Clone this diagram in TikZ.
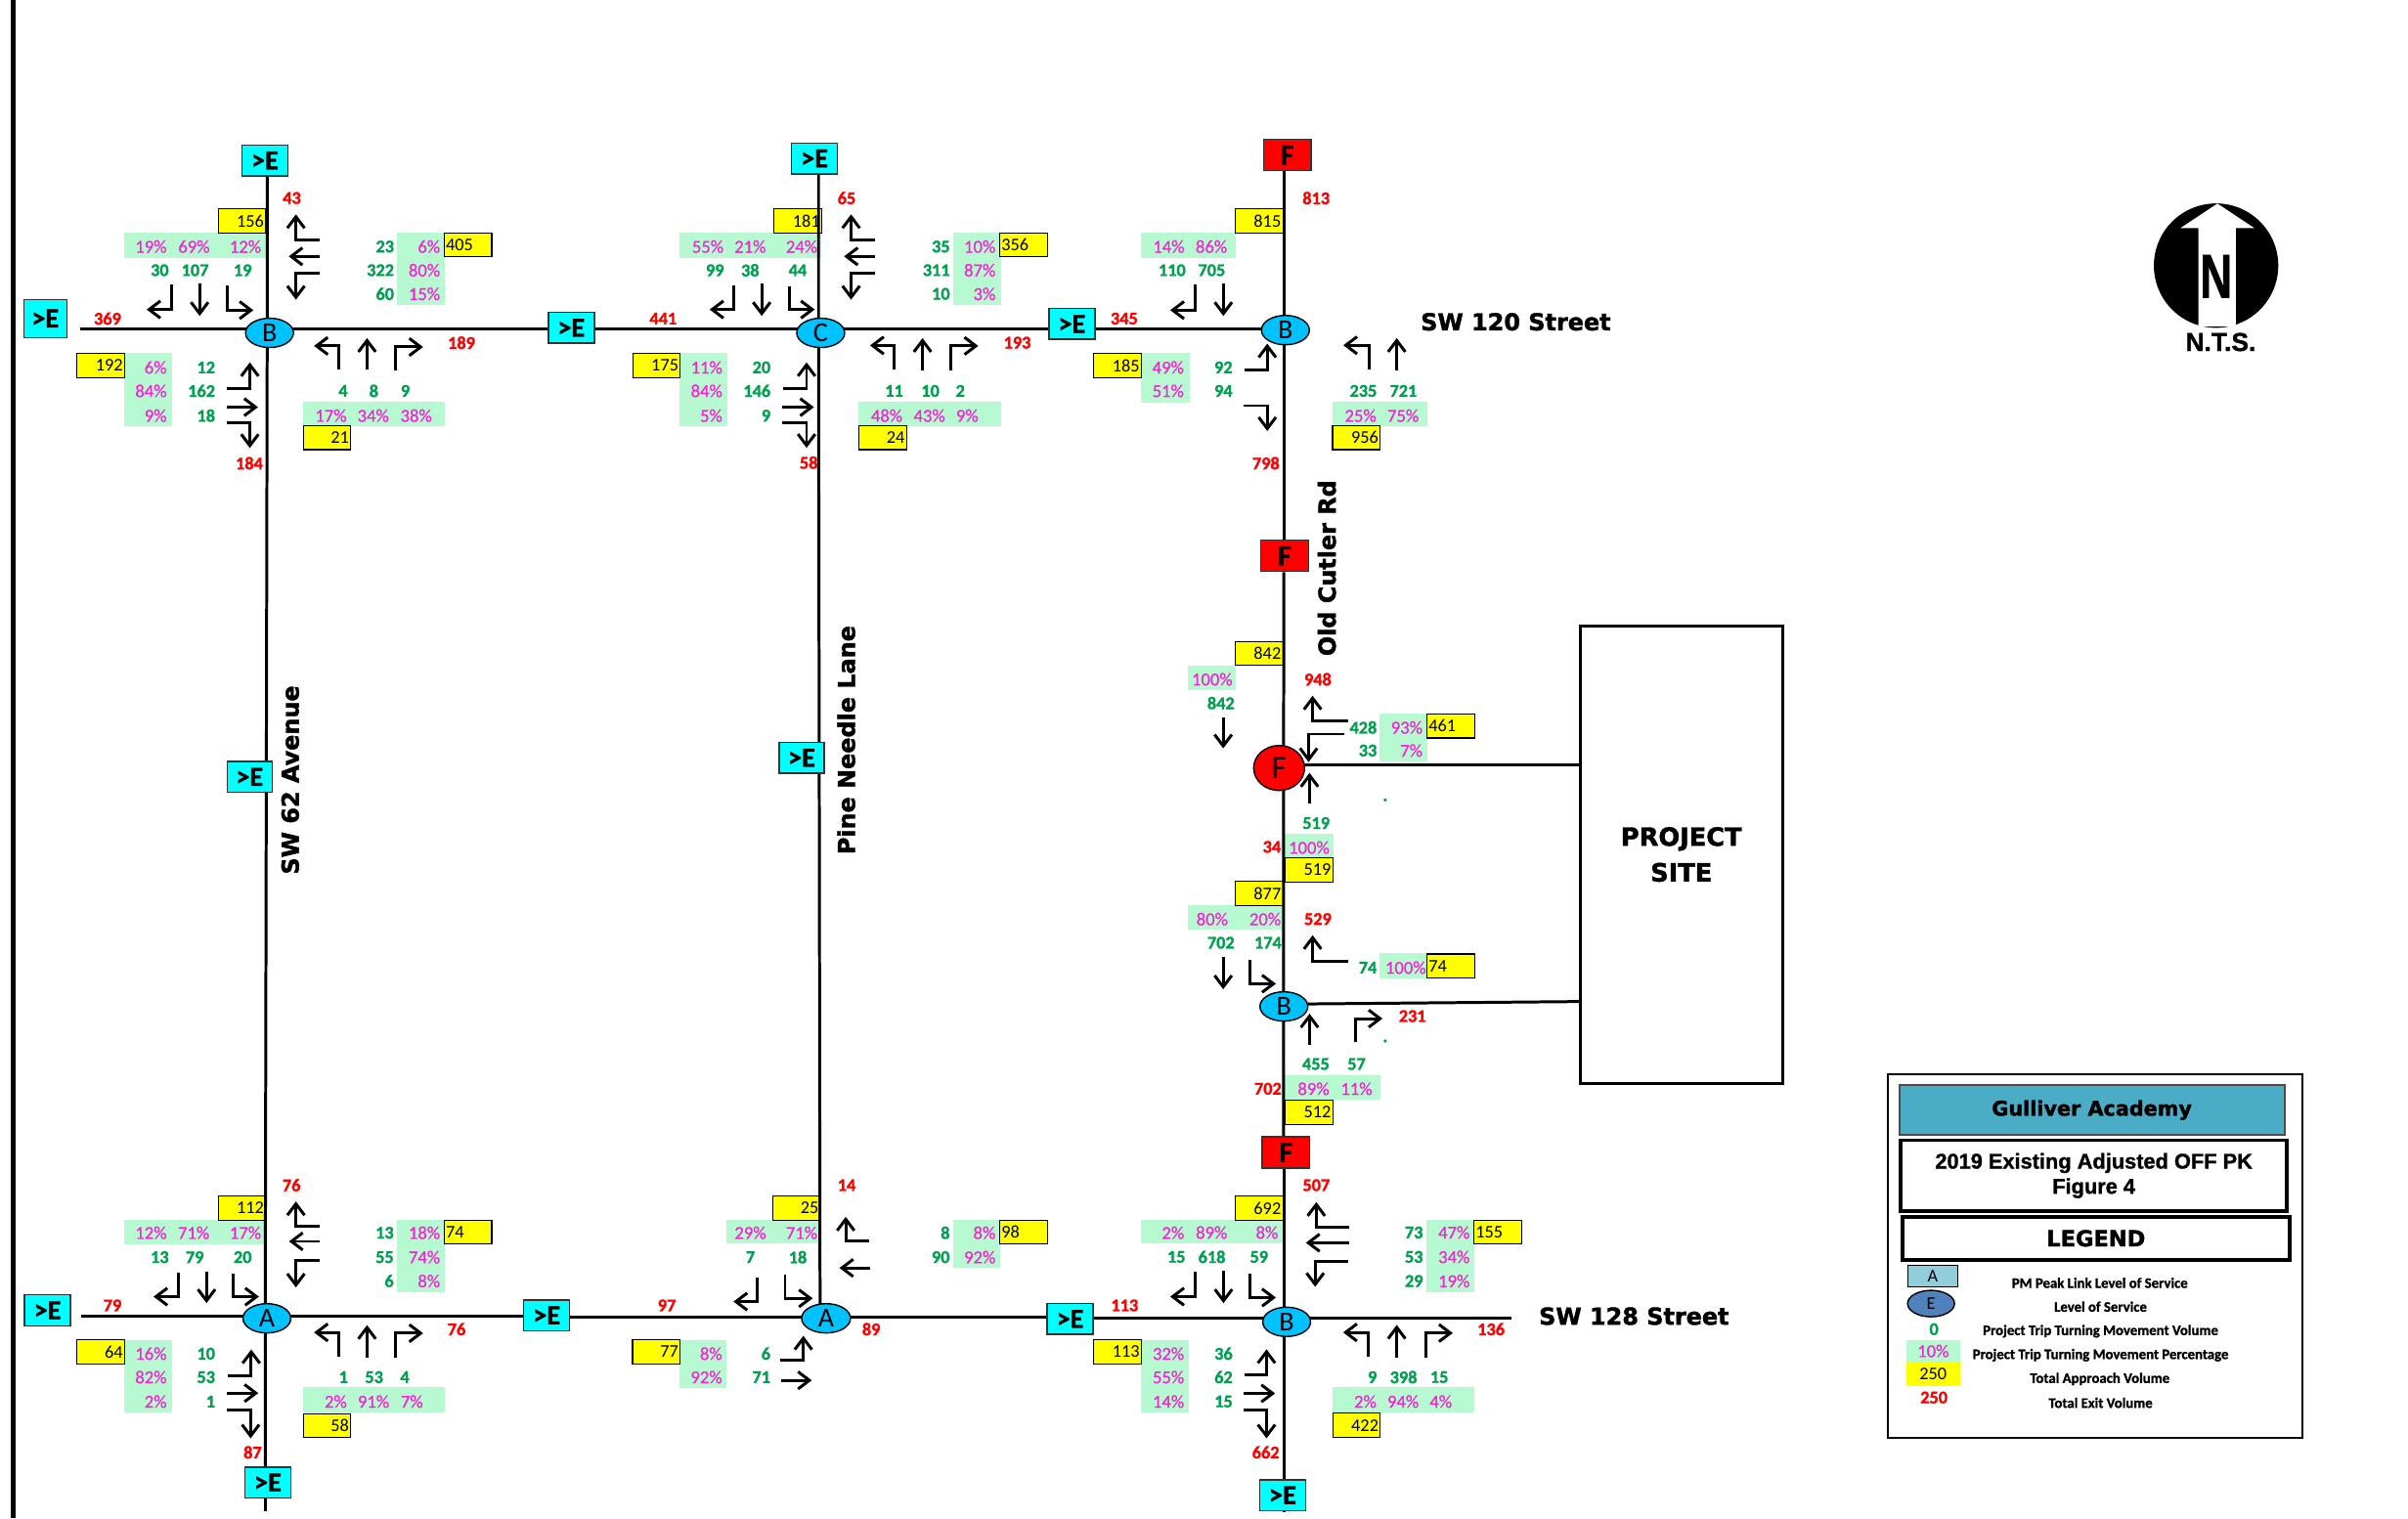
\documentclass[tikz,border=0pt]{standalone}
\usepackage{fontspec}
\setmainfont{Carlito}[BoldFeatures={FakeBold=1.2}]
\newfontfamily\pctfont{Carlito}[FakeBold=0.5]
\newfontfamily\heavyfont{DejaVu Sans}[BoldFont={DejaVu Sans Bold},BoldFeatures={FakeBold=1.6}]
\newfontfamily\arialfont{Liberation Sans}[BoldFeatures={FakeBold=1.2}]
\usepackage{tikz}
\usetikzlibrary{arrows.meta,shapes.geometric}

\definecolor{bandgreen}{RGB}{183,249,209}
\definecolor{pctpink}{RGB}{245,35,210}
\definecolor{volgreen}{RGB}{0,160,80}
\definecolor{losblue}{RGB}{0,194,255}
\definecolor{titleteal}{RGB}{75,172,198}
\definecolor{linkcyan}{RGB}{0,255,255}
\definecolor{totalyellow}{RGB}{255,255,0}
\definecolor{exitred}{RGB}{255,0,0}

\tikzset{
	road/.style={line width=0.85pt},
	turn/.style={line width=0.85pt,-{Straight Barb[length=3.3pt,width=5pt]}},
	band/.style={fill=bandgreen},
	pct/.style={inner sep=0,text=pctpink,font=\fontsize{5.3}{5.3}\selectfont\pctfont},
	pctr/.style={pct,anchor=east},
	vol/.style={inner sep=0,text=volgreen,font=\fontsize{5.2}{5.2}\selectfont\bfseries},
	volr/.style={vol,anchor=east},
	exit/.style={inner sep=0,text=exitred,font=\fontsize{5.2}{5.2}\selectfont\bfseries},
	totalr/.style={draw,fill=totalyellow,line width=0.3pt,minimum width=4.87mm,minimum height=2.47mm,text width=4.5mm,inner xsep=0.18mm,inner ysep=0,align=right,font=\fontsize{5.2}{5.2}\selectfont},
	totall/.style={totalr,align=left},
	linkbox/.style={draw=black!80,fill=linkcyan,line width=0.4pt,minimum width=4.7mm,minimum height=3.15mm,inner sep=0,font=\fontsize{8}{8}\selectfont\bfseries},
	failbox/.style={draw=black!80,fill=exitred,line width=0.4pt,minimum width=4.85mm,minimum height=3.2mm,inner sep=0,font=\fontsize{8.5}{8.5}\selectfont\bfseries},
	los/.style={draw,ellipse,fill=losblue,line width=0.4pt,minimum width=4.9mm,minimum height=3mm,inner sep=0,font=\fontsize{8}{8}\selectfont},
	streetlabel/.style={inner sep=0,font=\fontsize{6.8}{6.8}\selectfont\heavyfont\bfseries},
	legendtext/.style={inner sep=0,font=\fontsize{4.2}{4.2}\selectfont\bfseries}
}

\begin{document}
\begin{tikzpicture}[x=0.15708mm,y=-0.15708mm]
	\useasboundingbox (0,0) rectangle (1568,988.7);
	\draw[line width=1.2pt] (8.6,0) -- (8.6,988.7);

	% mint bands behind the percentages
	\fill[band] (81,151.3) rectangle (173,167.8);
	\fill[band] (258.4,151.3) rectangle (289.8,198.8);
	\fill[band] (197.3,261.4) rectangle (289.8,277.5);
	\fill[band] (81,230) rectangle (112,277.5);
	\fill[band] (442.4,151.3) rectangle (535,167.8);
	\fill[band] (620.4,151.3) rectangle (651.6,198.8);
	\fill[band] (558.9,261.4) rectangle (651.6,277.5);
	\fill[band] (442.4,230) rectangle (473.6,277.5);
	\fill[band] (743,151.3) rectangle (804.7,167.8);
	\fill[band] (743,230) rectangle (774.5,262);
	\fill[band] (867.7,261.4) rectangle (929.3,277.5);
	\fill[band] (773.7,433.3) rectangle (804.8,449.7);
	\fill[band] (898.1,464.5) rectangle (929.3,495.9);
	\fill[band] (836.5,543) rectangle (868.5,558.4);
	\fill[band] (773.7,589.7) rectangle (834.5,605.7);
	\fill[band] (898.1,620.9) rectangle (929.3,637.5);
	\fill[band] (836.5,700.2) rectangle (898.9,716.4);
	\fill[band] (81,794.8) rectangle (172.7,810.1);
	\fill[band] (258.4,794.8) rectangle (289.8,841.3);
	\fill[band] (197.3,903.5) rectangle (289.8,920.2);
	\fill[band] (81,872.5) rectangle (112,920.2);
	\fill[band] (473.2,794.8) rectangle (533.6,809.9);
	\fill[band] (620.5,794.8) rectangle (651.5,825.8);
	\fill[band] (442.5,872.5) rectangle (473.2,903.9);
	\fill[band] (743.1,794.8) rectangle (835,810);
	\fill[band] (929,794.6) rectangle (960.1,841.5);
	\fill[band] (867.8,903.4) rectangle (960.1,920.2);
	\fill[band] (743.1,872.5) rectangle (774.3,920.2);

	% approach totals
	\node[totalr] at (157.5,144) (b1-t156) {156};
	\node[totall] at (304.7,159.5) (b1-t405) {405};
	\node[totalr] at (212.9,285) (b1-t21) {21};
	\node[totalr] at (65.7,238) (b1-t192) {192};
	\node[totalr] at (519.5,144) (c-t181) {181};
	\node[totall] at (666.5,159.5) (c-t356) {356};
	\node[totalr] at (574.8,285) (c-t24) {24};
	\node[totalr] at (427.5,238) (c-t175) {175};
	\node[totalr] at (819.8,144) (b2-t815) {815};
	\node[totalr] at (727.8,238) (b2-t185) {185};
	\node[totalr] at (883.2,285) (b2-t956) {956};
	\node[totalr] at (819.8,425.6) (f-t842) {842};
	\node[totall] at (944.7,472.8) (f-t461) {461};
	\node[totalr] at (852.3,566.5) (f-t519) {519};
	\node[totalr] at (819.8,582) (b4-t877) {877};
	\node[totall] at (944.7,629.2) (b4-t74) {74};
	\node[totalr] at (852.3,724.3) (b4-t512) {512};
	\node[totalr] at (157.5,786.8) (a1-t112) {112};
	\node[totall] at (304.7,802.5) (a1-t74) {74};
	\node[totalr] at (212.9,928.5) (a1-t58) {58};
	\node[totalr] at (65.7,880.5) (a1-t64) {64};
	\node[totalr] at (518.8,786.8) (a2-t25) {25};
	\node[totall] at (666.5,802.5) (a2-t98) {98};
	\node[totalr] at (427.4,880.5) (a2-t77) {77};
	\node[totalr] at (819.8,786.8) (b3-t692) {692};
	\node[totall] at (975.2,802.5) (b3-t155) {155};
	\node[totalr] at (883.3,928.3) (b3-t422) {422};
	\node[totalr] at (727.7,880.5) (b3-t113) {113};

	% SW 62 Avenue and SW 120 Street
	\node[pctr] at (109,160.6) (b1-p19) {19\%};
	\node[pctr] at (137,160.6) (b1-p69) {69\%};
	\node[pctr] at (170.5,160.6) (b1-p12) {12\%};
	\node[vol] at (104,176) (b1-v30) {30};
	\node[vol] at (127,176) (b1-v107) {107};
	\node[vol] at (158,176) (b1-v19) {19};
	\node[exit] at (190,129) (b1-x43) {43};
	\node[volr] at (257,160.6) (b1-v23) {23};
	\node[volr] at (257,176) (b1-v322) {322};
	\node[volr] at (257,191.4) (b1-v60) {60};
	\node[pctr] at (287,160.6) (b1-p6) {6\%};
	\node[pctr] at (287,176) (b1-p80) {80\%};
	\node[pctr] at (287,191.4) (b1-p15) {15\%};
	\node[vol] at (223.4,254.6) (b1-v4) {4};
	\node[vol] at (243.4,254.6) (b1-v8) {8};
	\node[vol] at (263.9,254.6) (b1-v9) {9};
	\node[pct] at (215.5,270.7) (b1-p17) {17\%};
	\node[pct] at (243,270.7) (b1-p34) {34\%};
	\node[pct] at (271,270.7) (b1-p38) {38\%};
	\node[exit] at (300.5,223.2) (b1-x189) {189};
	\node[pctr] at (109,239.3) (b1-p6w) {6\%};
	\node[pctr] at (109,254.6) (b1-p84) {84\%};
	\node[pctr] at (109,270.7) (b1-p9) {9\%};
	\node[volr] at (140.5,239.3) (b1-v12) {12};
	\node[volr] at (140.5,254.6) (b1-v162) {162};
	\node[volr] at (140.5,270.7) (b1-v18) {18};
	\node[exit] at (162.3,301.7) (b1-x184) {184};
	\node[exit] at (70,207.5) (b1-x369) {369};

	\draw[turn] (112,185.4) -- (112,201.6) -- (95.5,201.6);
	\draw[turn] (130,184.6) -- (130,205.8);
	\draw[turn] (148,186) -- (148,202) -- (165,202);
	\draw[turn] (208,156.4) -- (192.7,156.4) -- (192.7,139.6);
	\draw[turn] (208,167) -- (188,167);
	\draw[turn] (208,178.2) -- (192.7,178.2) -- (192.7,195.2);
	\draw[turn] (220.5,240.8) -- (220.5,225.3) -- (204.5,225.3);
	\draw[turn] (239,240.8) -- (239,220.2);
	\draw[turn] (257.5,241.5) -- (257.5,226) -- (275.5,226);
	\draw[turn] (148,253) -- (162.7,253) -- (162.7,236);
	\draw[turn] (147.7,265.2) -- (168,265.2);
	\draw[turn] (147.7,275.4) -- (162.7,275.4) -- (162.7,291.8);

	% Pine Needle Lane and SW 120 Street
	\node[pct] at (460.9,160.6) (c-p55) {55\%};
	\node[pct] at (488.5,160.6) (c-p21) {21\%};
	\node[pct] at (522,160.6) (c-p24) {24\%};
	\node[vol] at (465.5,176) (c-v99) {99};
	\node[vol] at (488.5,176) (c-v38) {38};
	\node[vol] at (519.4,176) (c-v44) {44};
	\node[exit] at (551.3,129) (c-x65) {65};
	\node[volr] at (619,160.6) (c-v35) {35};
	\node[volr] at (619,176) (c-v311) {311};
	\node[volr] at (619,191.4) (c-v10) {10};
	\node[pctr] at (648.7,160.6) (c-p10) {10\%};
	\node[pctr] at (648.7,176) (c-p87) {87\%};
	\node[pctr] at (648.7,191.4) (c-p3) {3\%};
	\node[vol] at (582.2,254.6) (c-v11) {11};
	\node[vol] at (605.8,254.6) (c-v10n) {10};
	\node[vol] at (625.3,254.6) (c-v2) {2};
	\node[pct] at (577.4,270.7) (c-p48) {48\%};
	\node[pct] at (605.2,270.7) (c-p43) {43\%};
	\node[pct] at (629.8,270.7) (c-p9) {9\%};
	\node[exit] at (662.4,223.2) (c-x193) {193};
	\node[pctr] at (470.8,239.3) (c-p11) {11\%};
	\node[pctr] at (470.8,254.6) (c-p84) {84\%};
	\node[pctr] at (470.8,270.7) (c-p5) {5\%};
	\node[volr] at (502.2,239.3) (c-v20) {20};
	\node[volr] at (502.2,254.6) (c-v146) {146};
	\node[volr] at (502.2,270.7) (c-v9) {9};
	\node[exit] at (526.6,301.3) (c-x58) {58};
	\node[exit] at (431.8,207.5) (c-x441) {441};

	\draw[turn] (477.8,185.6) -- (477.8,201.6) -- (462.1,201.6);
	\draw[turn] (496,184.6) -- (496,205.8);
	\draw[turn] (513.9,186.3) -- (513.9,201.6) -- (530.5,201.6);
	\draw[turn] (569.7,156.6) -- (554.2,156.6) -- (554.2,139.6);
	\draw[turn] (569.7,167) -- (549.6,167);
	\draw[turn] (569.7,178.2) -- (554.2,178.2) -- (554.2,195.2);
	\draw[turn] (582.4,240.8) -- (582.4,225) -- (566.5,225);
	\draw[turn] (600.7,241.2) -- (600.7,220.2);
	\draw[turn] (619.4,241.2) -- (619.4,225.3) -- (637,225.3);
	\draw[turn] (509.9,252.9) -- (525.2,252.9) -- (525.2,236);
	\draw[turn] (509.3,265.2) -- (530,265.2);
	\draw[turn] (509.3,275.4) -- (525.2,275.4) -- (525.2,291.7);

	% Old Cutler Rd and SW 120 Street
	\node[exit] at (857,129) (b2-x813) {813};
	\node[pct] at (761,160.6) (b2-p14) {14\%};
	\node[pct] at (788.8,160.6) (b2-p86) {86\%};
	\node[vol] at (763.2,176) (b2-v110) {110};
	\node[vol] at (789,176) (b2-v705) {705};
	\node[exit] at (732,207.5) (b2-x345) {345};
	\node[pctr] at (771.3,239.3) (b2-p49) {49\%};
	\node[pctr] at (771.3,254.6) (b2-p51) {51\%};
	\node[vol] at (796.6,239.3) (b2-v92) {92};
	\node[vol] at (796.6,254.6) (b2-v94) {94};
	\node[exit] at (824.3,301.7) (b2-x798) {798};
	\node[vol] at (887.7,254.6) (b2-v235) {235};
	\node[vol] at (913.8,254.6) (b2-v721) {721};
	\node[pct] at (885.9,270.7) (b2-p25) {25\%};
	\node[pct] at (913.6,270.7) (b2-p75) {75\%};

	\draw[turn] (778.2,185.4) -- (778.2,202) -- (762,202);
	\draw[turn] (796.6,184.6) -- (796.6,205.8);
	\draw[turn] (810.2,240.8) -- (825.2,240.8) -- (825.2,223.8);
	\draw[turn] (809.7,264.2) -- (825.2,264.2) -- (825.2,280.7);
	\draw[turn] (891.6,240.8) -- (891.6,224.9) -- (874.7,224.9);
	\draw[turn] (909.5,241.5) -- (909.5,220.2);

	% northern site driveway
	\node[pct] at (789.3,442.4) (f-p100) {100\%};
	\node[vol] at (795,457.9) (f-v842) {842};
	\node[exit] at (858.1,442.4) (f-x948) {948};
	\node[volr] at (897,473.8) (f-v428) {428};
	\node[volr] at (897,488.8) (f-v33) {33};
	\node[pctr] at (926.7,473.8) (f-p93) {93\%};
	\node[pctr] at (926.7,488.8) (f-p7) {7\%};
	\node[vol] at (902,521) (f-dot) {.};
	\node[vol] at (857,536.1) (f-v519) {519};
	\node[exit] at (828.2,551.6) (f-x34) {34};
	\node[pct] at (852.4,552) (f-p100n) {100\%};

	\draw[turn] (796.5,467.4) -- (796.5,487.4);
	\draw[turn] (878.1,469.7) -- (854.7,469.7) -- (854.7,453.1);
	\draw[turn] (875.5,478.1) -- (852.1,478.1) -- (852.1,496.3);
	\draw[turn] (852.7,523.6) -- (852.7,503.4);

	% southern site driveway
	\node[pct] at (789.3,598.6) (b4-p80) {80\%};
	\node[pct] at (823.8,598.6) (b4-p20) {20\%};
	\node[vol] at (795,614) (b4-v702) {702};
	\node[vol] at (825.6,614) (b4-v174) {174};
	\node[exit] at (858.1,598.6) (b4-x529) {529};
	\node[volr] at (897,630.2) (b4-v74) {74};
	\node[pct] at (915.3,630.2) (b4-p100) {100\%};
	\node[exit] at (919.7,661.8) (b4-x231) {231};
	\node[vol] at (902,678) (b4-dot) {.};
	\node[vol] at (856.8,693) (b4-v455) {455};
	\node[vol] at (883.3,693) (b4-v57) {57};
	\node[exit] at (825.6,709.1) (b4-x702) {702};
	\node[pct] at (855.3,709.1) (b4-p89) {89\%};
	\node[pct] at (883.3,709.1) (b4-p11) {11\%};

	\draw[turn] (796.5,623.2) -- (796.5,644.3);
	\draw[turn] (814,625) -- (814,640.7) -- (830.8,640.7);
	\draw[turn] (878.1,626.1) -- (854.7,626.1) -- (854.7,609.1);
	\draw[turn] (852.7,680.7) -- (852.7,660.2);
	\draw[turn] (882.5,678.9) -- (882.5,663.4) -- (900.2,663.4);

	% SW 62 Avenue and SW 128 Street
	\node[pctr] at (109,802.9) (a1-p12) {12\%};
	\node[pctr] at (136.8,802.9) (a1-p71) {71\%};
	\node[pctr] at (170.5,802.9) (a1-p17) {17\%};
	\node[vol] at (104,818.8) (a1-v13) {13};
	\node[vol] at (126.8,818.8) (a1-v79) {79};
	\node[vol] at (158,818.8) (a1-v20) {20};
	\node[exit] at (189.8,771.9) (a1-x76) {76};
	\node[volr] at (256.8,802.9) (a1-v13e) {13};
	\node[volr] at (256.8,818.8) (a1-v55) {55};
	\node[volr] at (256.8,834.3) (a1-v6) {6};
	\node[pctr] at (287,802.9) (a1-p18) {18\%};
	\node[pctr] at (287,818.8) (a1-p74) {74\%};
	\node[pctr] at (287,834.3) (a1-p8) {8\%};
	\node[exit] at (73.2,850.2) (a1-x79) {79};
	\node[vol] at (223.6,896.9) (a1-v1) {1};
	\node[vol] at (243.6,896.9) (a1-v53) {53};
	\node[vol] at (263.6,896.9) (a1-v4) {4};
	\node[pct] at (218.6,912.8) (a1-p2) {2\%};
	\node[pct] at (243.2,912.8) (a1-p91) {91\%};
	\node[pct] at (268.2,912.8) (a1-p7) {7\%};
	\node[exit] at (297.3,865.7) (a1-x76e) {76};
	\node[pctr] at (109,881.6) (a1-p16) {16\%};
	\node[pctr] at (109,896.9) (a1-p82) {82\%};
	\node[pctr] at (109,912.8) (a1-p2w) {2\%};
	\node[volr] at (140.5,881.6) (a1-v10) {10};
	\node[volr] at (140.5,896.9) (a1-v53w) {53};
	\node[volr] at (140.5,912.8) (a1-v1w) {1};
	\node[exit] at (164.5,945.9) (a1-x87) {87};

	\draw[turn] (116.4,828.6) -- (116.4,844.5) -- (100,844.5);
	\draw[turn] (134.5,828) -- (134.5,848.7);
	\draw[turn] (151.8,829.2) -- (151.8,844.5) -- (168.6,844.5);
	\draw[turn] (208,798.9) -- (192.7,798.9) -- (192.7,782.5);
	\draw[turn] (208,808.5) -- (188.2,808.5);
	\draw[turn] (208,821.2) -- (192.7,821.2) -- (192.7,838.5);
	\draw[turn] (220.5,883.7) -- (220.5,867.8) -- (204.5,867.8);
	\draw[turn] (239,884.2) -- (239,863);
	\draw[turn] (257.5,884.2) -- (257.5,868.3) -- (275.5,868.3);
	\draw[turn] (148.2,895.8) -- (163.6,895.8) -- (163.6,878.9);
	\draw[turn] (147.7,907.3) -- (168.2,907.3);
	\draw[turn] (147.7,918.3) -- (163.2,918.3) -- (163.2,936.8);

	% Pine Needle Lane and SW 128 Street
	\node[pct] at (488.6,802.9) (a2-p29) {29\%};
	\node[pct] at (522,802.9) (a2-p71) {71\%};
	\node[vol] at (488.6,818.8) (a2-v7) {7};
	\node[vol] at (519.5,818.8) (a2-v18) {18};
	\node[exit] at (551.3,771.9) (a2-x14) {14};
	\node[volr] at (618.9,802.9) (a2-v8) {8};
	\node[volr] at (618.9,818.8) (a2-v90) {90};
	\node[pctr] at (648.7,802.9) (a2-p8) {8\%};
	\node[pctr] at (648.7,818.8) (a2-p92) {92\%};
	\node[exit] at (434.2,850.2) (a2-x97) {97};
	\node[pctr] at (470.7,881.6) (a2-p8w) {8\%};
	\node[pctr] at (470.7,896.9) (a2-p92w) {92\%};
	\node[volr] at (502.1,881.6) (a2-v6) {6};
	\node[volr] at (502.1,896.9) (a2-v71) {71};
	\node[exit] at (567.3,865.7) (a2-x89) {89};

	\draw[turn] (493.3,831.8) -- (493.3,847.7) -- (477.6,847.7);
	\draw[turn] (511.2,830) -- (511.2,845.6) -- (529.2,845.6);
	\draw[turn] (565.9,808.4) -- (550.7,808.4) -- (550.7,792.5);
	\draw[turn] (566.7,825.8) -- (546.6,825.8);
	\draw[turn] (508,885.9) -- (523.1,885.9) -- (523.1,870);
	\draw[turn] (508.5,899) -- (528.6,899);

	% Old Cutler Rd and SW 128 Street
	\node[pctr] at (771.5,802.9) (b3-p2) {2\%};
	\node[pct] at (788.9,802.7) (b3-p89) {89\%};
	\node[pctr] at (832.7,802.7) (b3-p8) {8\%};
	\node[vol] at (766,818.6) (b3-v15) {15};
	\node[vol] at (789.1,818.6) (b3-v618) {618};
	\node[vol] at (819.8,818.6) (b3-v59) {59};
	\node[exit] at (857.1,771.9) (b3-x507) {507};
	\node[volr] at (927,802.7) (b3-v73) {73};
	\node[volr] at (927,818.6) (b3-v53) {53};
	\node[volr] at (927,834.3) (b3-v29) {29};
	\node[pctr] at (957.5,802.7) (b3-p47) {47\%};
	\node[pctr] at (957.5,818.6) (b3-p34) {34\%};
	\node[pctr] at (957.5,834.3) (b3-p19) {19\%};
	\node[exit] at (732.3,850.2) (b3-x113) {113};
	\node[exit] at (970.9,865.7) (b3-x136) {136};
	\node[vol] at (893.6,896.9) (b3-v9) {9};
	\node[vol] at (913.9,896.9) (b3-v398) {398};
	\node[vol] at (937.2,896.9) (b3-v15n) {15};
	\node[pct] at (889,912.8) (b3-p2n) {2\%};
	\node[pct] at (913.6,912.8) (b3-p94) {94\%};
	\node[pct] at (938.2,912.8) (b3-p4) {4\%};
	\node[pctr] at (771.5,881.6) (b3-p32) {32\%};
	\node[pctr] at (771.5,896.9) (b3-p55) {55\%};
	\node[pctr] at (771.5,912.8) (b3-p14) {14\%};
	\node[vol] at (796.7,881.6) (b3-v36) {36};
	\node[vol] at (796.7,896.9) (b3-v62) {62};
	\node[vol] at (796.7,912.8) (b3-v15w) {15};
	\node[exit] at (824.2,945.9) (b3-x662) {662};

	\draw[turn] (778.4,828.5) -- (778.4,844.5) -- (762,844.5);
	\draw[turn] (796.7,827.9) -- (796.7,848.7);
	\draw[turn] (814.2,829.2) -- (814.2,845.1) -- (830.8,845.1);
	\draw[turn] (878.3,799) -- (857.1,799) -- (857.1,782.9);
	\draw[turn] (878.3,809.4) -- (850.3,809.4);
	\draw[turn] (877.6,821.5) -- (856.4,821.5) -- (856.4,838.1);
	\draw[turn] (891,883.7) -- (891,867.8) -- (874.6,867.8);
	\draw[turn] (909.5,884.1) -- (909.5,862.9);
	\draw[turn] (928.2,884.1) -- (928.2,868.2) -- (946,868.2);
	\draw[turn] (810.1,895.4) -- (824.7,895.4) -- (824.7,878.8);
	\draw[turn] (809.6,907.5) -- (830.3,907.5);
	\draw[turn] (809.6,918.3) -- (824.7,918.3) -- (824.7,936.8);

	% link level of service boxes
	\node[linkbox] at (172.5,104.5) (link-b1n) {>E};
	\node[linkbox,minimum width=4.4mm,minimum height=3.9mm] at (29.5,207.4) (link-b1w) {>E};
	\node[linkbox] at (372,213.5) (link-b1c) {>E};
	\node[linkbox] at (530.4,103.2) (link-cn) {>E};
	\node[linkbox] at (698,211) (link-cb2) {>E};
	\node[failbox] at (838.2,101) (link-b2n) {F};
	\node[failbox] at (836.5,362) (link-b2s) {F};
	\node[failbox] at (837.4,750.5) (link-b4s) {F};
	\node[linkbox] at (31,853.4) (link-a1w) {>E};
	\node[linkbox] at (174.4,965.5) (link-a1s) {>E};
	\node[linkbox] at (356,856.7) (link-a1a2) {>E};
	\node[linkbox] at (696.8,859) (link-a2b3) {>E};
	\node[linkbox] at (835.2,973.8) (link-b3s) {>E};

	\node[draw,line width=0.9pt,minimum width=20.7mm,minimum height=46.8mm,align=center,font=\fontsize{7.3}{10.4}\selectfont\heavyfont\bfseries] at (1094.8,556.5) (project-site) {PROJECT\\SITE};

	% where the roads meet
	\coordinate (b1-cross) at (174,214.3);
	\coordinate (c-cross) at (533,214.3);
	\coordinate (b2-cross) at (836,214);
	\coordinate (a1-cross) at (172.7,857.4);
	\coordinate (a2-cross) at (534,857.6);
	\coordinate (b3-cross) at (836,858.5);
	\coordinate (f-cross) at (835.8,498);
	\coordinate (b4-cross) at (835.8,654);
	\coordinate (b4-site) at (1029,652.3);
	\coordinate (b1-west) at (52,214.3);
	\coordinate (a1-west) at (53,857.4);
	\coordinate (b3-east) at (984.3,858.5);
	\coordinate (a1-south) at (172.7,984.1);
	\coordinate (b3-south) at (836,984.5);

	\draw[road] (link-b1n.south -| b1-cross) -- (b1-cross) -- (a1-cross) -- (link-a1s.north -| a1-cross);
	\draw[road] (link-a1s.south -| a1-south) -- (a1-south);
	\draw[road] (link-cn.south -| c-cross) -- (c-cross) -- (a2-cross);
	\draw[road] (link-b2n.south -| b2-cross) -- (b2-cross) -- (link-b2s.north -| b2-cross);
	\draw[road] (link-b2s.south -| b2-cross) -- (f-cross) -- (b4-cross) -- (link-b4s.north -| b4-cross);
	\draw[road] (link-b4s.south -| b3-cross) -- (b3-cross) -- (link-b3s.north -| b3-cross);
	\draw[road] (link-b3s.south -| b3-south) -- (b3-south);
	\draw[road] (b1-west) -- (b1-cross) -- (link-b1c.west |- b1-cross);
	\draw[road] (link-b1c.east |- c-cross) -- (c-cross) -- (link-cb2.west |- c-cross);
	\draw[road] (link-cb2.east |- b2-cross) -- (b2-cross);
	\draw[road] (a1-west) -- (a1-cross) -- (link-a1a2.west |- a1-cross);
	\draw[road] (link-a1a2.east |- a2-cross) -- (a2-cross) -- (link-a2b3.west |- a2-cross);
	\draw[road] (link-a2b3.east |- b3-cross) -- (b3-cross) -- (b3-east);
	\draw[road] (f-cross) -- (project-site.west |- f-cross);
	\draw[road] (b4-cross) -- (b4-site);

	% boxes standing on the roads
	\node[linkbox,minimum width=4.6mm] at (162.5,506) (link-b1a1) {>E};
	\node[linkbox,minimum width=4.6mm] at (522,493.5) (link-ca2) {>E};

	\node[los] at (175.5,216.8) (b1) {B};
	\node[los] at (534.4,216.8) (c) {C};
	\node[los] at (837,215) (b2) {B};
	\node[los] at (173.8,858.6) (a1) {A};
	\node[los,minimum width=5mm] at (537.9,858.6) (a2) {A};
	\node[los] at (837.8,860.9) (b3) {B};
	\node[los] at (836,655.5) (b4) {B};
	\node[draw,ellipse,fill=exitred,line width=0.4pt,minimum width=5.2mm,minimum height=4.6mm,inner sep=0,font=\fontsize{9.5}{9.5}\selectfont] at (832.9,500.2) (f) {F};

	% street names
	\node[streetlabel] at (987,209.6) (sw120) {SW 120 Street};
	\node[streetlabel] at (1064,857.2) (sw128) {SW 128 Street};
	\node[streetlabel,rotate=90] at (189,508) (sw62) {SW 62 Avenue};
	\node[streetlabel,rotate=90] at (551,482) (pine) {Pine Needle Lane};
	\node[streetlabel,rotate=90] at (864,370) (cutler) {Old Cutler Rd};

	% north arrow
	\fill (1443,173) circle (40.5);
	\fill[white] (1443.9,132.6) -- (1467.8,148.5) -- (1455.9,148.5) -- (1455.9,212.6) -- (1431.5,212.6) -- (1431.5,148.5) -- (1419.9,148.5) -- cycle;
	\node[inner sep=0,xscale=0.72,font=\fontsize{18}{18}\selectfont\arialfont\bfseries] at (1443,180) (north) {N};
	\node[inner sep=0,font=\fontsize{7.5}{7.5}\selectfont\arialfont\bfseries] at (1446,222.8) (nts) {N.T.S.};

	% legend
	\node[draw,line width=0.6pt,minimum width=42.4mm,minimum height=37.2mm] at (1364.2,818) (legend) {};
	\node[draw=black!70,fill=titleteal,line width=0.6pt,minimum width=39.4mm,minimum height=5.14mm,inner sep=0,font=\fontsize{5.9}{5.9}\selectfont\heavyfont\bfseries] at (1362.1,723) (legend-client) {Gulliver Academy};
	\node[draw,line width=1pt,minimum width=39.5mm,minimum height=7.27mm,inner sep=0,align=center,font=\fontsize{6.2}{7.3}\selectfont\arialfont\bfseries] at (1363.4,765.7) (legend-title) {2019 Existing Adjusted OFF PK\\Figure 4};
	\node[draw,line width=1pt,minimum width=39.6mm,minimum height=4.4mm,inner sep=0,font=\fontsize{6.4}{6.4}\selectfont\heavyfont\bfseries] at (1364.8,806.5) (legend-head) {LEGEND};
	\node[draw,fill={rgb,255:red,146;green,205;blue,220},line width=0.4pt,minimum width=5.1mm,minimum height=2.2mm,inner sep=0,font=\fontsize{5.2}{5.2}\selectfont] at (1258.5,831) (legend-link) {A};
	\node[draw,ellipse,fill={rgb,255:red,79;green,129;blue,189},line width=0.4pt,minimum width=4.8mm,minimum height=2.7mm,inner sep=0,font=\fontsize{5.2}{5.2}\selectfont] at (1257.4,849) (legend-los) {E};
	\node[vol] at (1259.3,865.7) (legend-vol) {0};
	\node[band,minimum width=5.5mm,minimum height=2.33mm,inner sep=0,text=pctpink,font=\fontsize{5.3}{5.3}\selectfont\pctfont] at (1258.8,879.9) (legend-pct) {10\%};
	\node[fill=totalyellow,minimum width=5.5mm,minimum height=2.37mm,inner sep=0,font=\fontsize{5.2}{5.2}\selectfont] at (1258.8,894.9) (legend-total) {250};
	\node[exit] at (1259.3,910.2) (legend-exit) {250};
	\node[legendtext] at (1367.3,835.5) (legend-t1) {PM Peak Link Level of Service};
	\node[legendtext] at (1367.8,851) (legend-t2) {Level of Service};
	\node[legendtext] at (1367.8,867) (legend-t3) {Project Trip Turning Movement Volume};
	\node[legendtext] at (1367.8,882.6) (legend-t4) {Project Trip Turning Movement Percentage};
	\node[legendtext] at (1367.3,898.1) (legend-t5) {Total Approach Volume};
	\node[legendtext] at (1367.8,913.6) (legend-t6) {Total Exit Volume};
\end{tikzpicture}
\end{document}
